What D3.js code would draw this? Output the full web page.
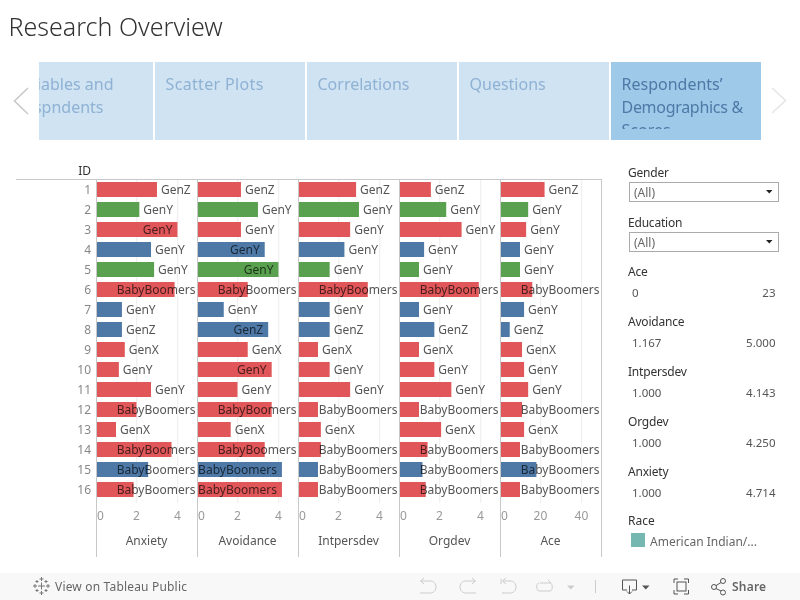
<!DOCTYPE html>
<html><head><meta charset="utf-8">
<script src="https://cdn.jsdelivr.net/npm/d3@7"></script>
<style>
html,body{margin:0;padding:0;background:#fff}
svg{display:block}
text{font-family:"Noto Sans",sans-serif}
.lab{mix-blend-mode:multiply}
</style></head><body>
<svg id="c" width="800" height="600"></svg>
<script>
const ids = d3.range(1, 17);
const generation = ["GenZ","GenY","GenY","GenY","GenY","BabyBoomers","GenY","GenZ","GenX","GenY","GenY","BabyBoomers","GenX","BabyBoomers","BabyBoomers","BabyBoomers"];
const race = ["r","g","r","b","g","r","b","b","r","r","r","r","r","r","b","r"];
const anxiety    = [3.00,2.14,4.00,2.71,2.86,3.86,1.29,1.29,1.43,1.14,2.71,2.00,1.00,3.71,2.57,1.86];
const avoidance  = [2.17,3.00,2.17,3.33,4.00,2.50,1.33,3.50,2.50,3.67,2.00,3.67,1.67,3.33,4.17,4.17];
const intpersdev = [2.86,3.00,2.57,2.29,1.57,3.43,1.57,1.57,1.00,1.57,2.57,1.00,1.14,1.14,1.00,1.00];
const orgdev     = [1.58,2.33,3.08,1.25,1.00,3.92,1.00,1.75,1.00,1.75,2.58,1.00,2.08,1.42,1.17,1.33];
const ace        = [22,14,13,10,10,16,12,5,11,12,14,11,12,10,18,10];
const measures = ["Anxiety","Avoidance","Intpersdev","Orgdev","Ace"];
const measureValues = [anxiety,avoidance,intpersdev,orgdev,ace];
const measureTicks = [[0,2,4],[0,2,4],[0,2,4],[0,2,4],[0,20,40]];
const measureMax = [4.93,4.93,4.93,4.93,49.3];
const tabs = [["Variables and","Respndents"],["Scatter Plots"],["Correlations"],["Questions"],["Respondents’","Demographics &","Scores"]];
const rangeFilters = [["Ace","0","23"],["Avoidance","1.167","5.000"],["Intpersdev","1.000","4.143"],["Orgdev","1.000","4.250"],["Anxiety","1.000","4.714"]];
const listFilters = ["Gender","Education"];
const raceColors = {r:"#e15759",g:"#59a14f",b:"#4e79a7"};

const svg = d3.select("#c");
const defs = svg.append("defs");
function T(x,y,s,size,fill,anchor,extra){
  const t = svg.append("text").attr("x",x).attr("y",y).attr("font-size",size).attr("fill",fill)
    .attr("text-anchor",anchor||"start").attr("dominant-baseline","central").text(s);
  if(extra) extra(t);
  return t;
}
// title
T(8.5,26,"Research Overview",25,"#333",null,t=>t.attr("font-weight",300));

// tabs
const tabX=[[39,153],[155,305],[307,457],[459,609],[611,761]];
tabs.forEach((lines,i)=>{
  const [a,b]=tabX[i], active=i===4;
  svg.append("rect").attr("x",a).attr("y",62).attr("width",b-a).attr("height",78).attr("fill",active?"#9fc9e8":"#cfe3f2");
  const id="tabclip"+i;
  defs.append("clipPath").attr("id",id).append("rect").attr("x",a).attr("y",62).attr("width",b-a).attr("height",67);
  const g=svg.append("g").attr("clip-path",`url(#${id})`);
  lines.forEach((s,j)=>{
    const tt=g.append("text").attr("y",84+23*j).attr("font-size",16).attr("dominant-baseline","central")
      .attr("fill",active?"#4e79a7":"#8fb1d4").text(s);
    if(i===0) tt.attr("x",j===0?113.5:103.5).attr("text-anchor","end");
    else tt.attr("x",a+10.5);
    if(s==="Scatter Plots") tt.attr("letter-spacing",.35);
    if(s==="Demographics &") tt.attr("letter-spacing",-.3);
  });
});
// chevrons
svg.append("path").attr("d","M28 88L14.5 101L28 114").attr("fill","none").attr("stroke","#c9c9c9").attr("stroke-width",1.6);
svg.append("path").attr("d","M772 88L785.5 100.5L772 113").attr("fill","none").attr("stroke","#e6e6e6").attr("stroke-width",1.6);

// chart
const rowY = d3.scaleBand().domain(ids).range([179.5,499.5]).paddingInner(.25).paddingOuter(.125);
const panelL = i=>96.5+101*i;
T(91,170.5,"ID",12,"#333","end");
ids.forEach(id=>T(91,rowY(id)+7.5,String(id),12,"#888","end"));

measures.forEach((m,i)=>{
  const L=panelL(i), R=L+101;
  const x=d3.scaleLinear().domain([0,measureMax[i]]).range([L-1,L+100]);
  const vals=measureValues[i];
  const g=svg.append("g");
  g.selectAll("line.g").data(measureTicks[i].slice(1)).join("line")
    .attr("x1",d=>x(d)+.3).attr("x2",d=>x(d)+.3).attr("y1",180).attr("y2",503).attr("stroke","#ececec");
  const id="pc"+i;
  defs.append("clipPath").attr("id",id).append("rect").attr("x",L+.5).attr("y",175).attr("width",100).attr("height",340);
  g.append("g").attr("clip-path",`url(#${id})`).selectAll("rect").data(ids).join("rect")
    .attr("x",x(0)).attr("y",d=>rowY(d)).attr("height",rowY.bandwidth())
    .attr("width",(d,k)=>x(vals[k])-x(0)).attr("fill",(d,k)=>raceColors[race[k]]);
  // labels: outside end if fits, inside end if fits, else pinned right
  ids.forEach((d,k)=>{
    const t=svg.append("text").attr("class","lab").attr("y",rowY(d)+7.5).attr("font-size",12)
      .attr("fill","#555").attr("dominant-baseline","central").text(generation[k]);
    const w=t.node().getComputedTextLength(), e=x(vals[k]);
    let sx;
    if(e+4+w<=R-3) sx=e+4; else if(e-5-w>=L) sx=e-5-w; else sx=R-2-w;
    t.attr("x",sx);
  });
  // ticks
  measureTicks[i].forEach(v=>{
    T(v===0?L+4:x(v),515.5,String(v),12,"#999","middle");
  });
  T((L+R)/2-0.5,540.5,m,12,"#555","middle");
});
// panel frame lines
d3.range(6).forEach(i=>{
  const L=panelL(i);
  svg.append("line").attr("x1",L).attr("x2",L).attr("y1",179.5).attr("y2",557).attr("stroke","#c8c8c8");
});
svg.append("line").attr("x1",16).attr("x2",602).attr("y1",179.5).attr("y2",179.5).attr("stroke","#c8c8c8");

// filters
listFilters.forEach((f,i)=>{
  const y=172.5+50*i;
  T(628,y,f,12,"#333",null,t=>t.attr("letter-spacing",-.2));
  svg.append("rect").attr("x",629.5).attr("y",y+10).attr("width",149).attr("height",19).attr("fill","#fff").attr("stroke","#aaa");
  T(634,y+19.5,"(All)",12,"#666");
  svg.append("path").attr("d",`M766 ${y+17.5}h6.5l-3.25 3.5z`).attr("fill","#222");
});
rangeFilters.forEach((f,i)=>{
  const y=271.5+50*i;
  T(628,y,f[0],12,"#333",null,t=>t.attr("letter-spacing",-.2));
  T(632,y+21,f[1],11.5,"#555");
  T(775.5,y+21,f[2],11.5,"#555","end");
});
T(628,520.5,"Race",12,"#333");
svg.append("rect").attr("x",631).attr("y",533).attr("width",14).attr("height",14).attr("fill","#76b7b2");
T(650,541,"American Indian/...",12,"#666");

// toolbar
svg.append("rect").attr("x",0).attr("y",573).attr("width",800).attr("height",27).attr("fill","#f8f8f8");
T(55,586.5,"View on Tableau Public",12,"#666",null,t=>t.attr("letter-spacing",.18));
T(732,586.5,"Share",12,"#666",null,t=>t.attr("font-weight",600).attr("letter-spacing",.2));
const logo=svg.append("g").attr("stroke","#777").attr("stroke-width",1).attr("fill","none");
[[41.5,586,3.5],[41.5,579,2],[41.5,593,2],[35,586,2],[48,586,2],[37,581.5,1.5],[46,581.5,1.5],[37,590.5,1.5],[46,590.5,1.5]].forEach(([x,y,r])=>{
  logo.append("path").attr("d",`M${x-r} ${y}h${2*r}M${x} ${y-r}v${2*r}`);
});
const ic=svg.append("g").attr("fill","none").attr("stroke","#ccc").attr("stroke-width",1);
ic.append("path").attr("d","M421 581H430C438 581 438 593 430 593H420M424 578L420.5 581L424 584");
ic.append("path").attr("d","M475 581H466C458 581 458 593 466 593H476M472 578L475.5 581L472 584");
ic.append("path").attr("d","M501 579V584M503 581H510C518 581 518 593 510 593H502M506 578L502.5 581L506 584");
ic.append("path").attr("d","M540 583H550C553 583 553 591 550 591H539C536 591 536 583 539 583M548 580L551 583");
svg.append("path").attr("d","M567 585.5h7.5l-3.75 4z").attr("fill","#ccc");
ic.append("path").attr("d","M595.5 580V593").attr("stroke","#ccc");
const ik=svg.append("g").attr("fill","none").attr("stroke","#555").attr("stroke-width",1);
ik.append("path").attr("d","M627 590H622.5V580H636.5V590H632M629.5 585.5V594M627 591.5L629.5 594L632 591.5");
svg.append("path").attr("d","M642 585.5h7.5l-3.75 4z").attr("fill","#555");
ik.append("path").attr("d","M674 583V579H678M684 579H688.5V583M688.5 590V594H684M678 594H674V590");
ik.append("rect").attr("x",677).attr("y",582).attr("width",9).attr("height",9);
ik.append("circle").attr("cx",714).attr("cy",587).attr("r",2.5);
ik.append("circle").attr("cx",723).attr("cy",581).attr("r",2.5);
ik.append("circle").attr("cx",723).attr("cy",592.5).attr("r",2.5);
ik.append("path").attr("d","M716 585.6L721 582.5M716 588.5L721 591");
</script>
</body></html>
